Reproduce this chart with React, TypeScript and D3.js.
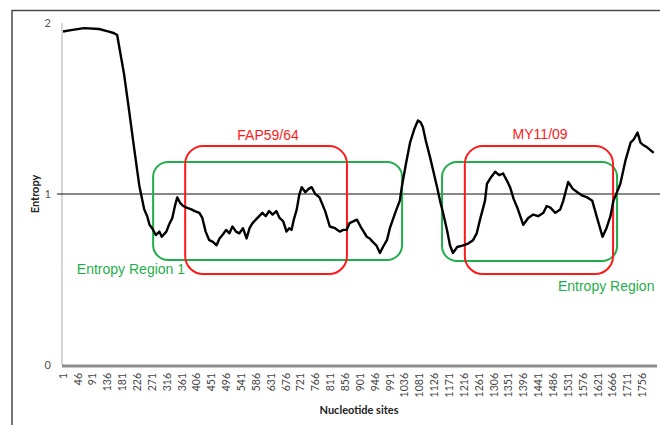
import { useEffect, useRef } from "react";
import * as d3 from "d3";

// entropy curve (site, value)
const sites = [
  1, 30, 65, 110, 140, 156, 165, 175, 186, 201,
  217, 232, 247, 256, 263, 271, 282, 293, 300, 314,
  322, 332, 340, 347, 355, 365, 375, 390, 400, 414,
  423, 433, 444, 455, 466, 475, 484, 495, 505, 514,
  525, 535, 546, 557, 566, 575, 590, 605, 615, 625,
  636, 647, 657, 668, 678, 686, 693, 700, 709, 716,
  724, 735, 745, 754, 765, 778, 795, 809, 825, 839,
  850, 860, 869, 880, 891, 905, 921, 930, 939, 950,
  961, 970, 982, 991, 1000, 1011, 1021, 1027, 1040, 1052,
  1065, 1076, 1084, 1091, 1100, 1112, 1123, 1134, 1143, 1152,
  1164, 1173, 1182, 1195, 1213, 1228, 1243, 1254, 1264, 1279,
  1285, 1298, 1310, 1322, 1334, 1345, 1355, 1366, 1377, 1395,
  1410, 1425, 1440, 1456, 1466, 1477, 1492, 1507, 1516, 1531,
  1545, 1559, 1574, 1589, 1604, 1620, 1635, 1647, 1659, 1668,
  1689, 1705, 1720, 1730, 1741, 1750, 1756, 1772, 1790,
];
const entropy = [
  1.95, 1.96, 1.97, 1.965, 1.95, 1.94, 1.93, 1.82, 1.7, 1.49,
  1.26, 1.05, 0.91, 0.87, 0.82, 0.8, 0.76, 0.78, 0.75, 0.78,
  0.82, 0.86, 0.93, 0.98, 0.95, 0.93, 0.92, 0.91, 0.9, 0.89,
  0.86, 0.78, 0.73, 0.72, 0.7, 0.74, 0.76, 0.79, 0.77, 0.81,
  0.78, 0.77, 0.8, 0.74, 0.8, 0.83, 0.86, 0.89, 0.87, 0.9,
  0.88, 0.9, 0.86, 0.84, 0.78, 0.8, 0.79, 0.85, 0.91, 0.99,
  1.04, 1.01, 1.03, 1.04, 1.0, 0.98, 0.9, 0.81, 0.8, 0.78,
  0.79, 0.79, 0.83, 0.84, 0.85, 0.8, 0.75, 0.74, 0.72, 0.7,
  0.655, 0.69, 0.73, 0.8, 0.85, 0.91, 0.96, 1.04, 1.18, 1.3,
  1.38, 1.43, 1.42, 1.39, 1.31, 1.22, 1.13, 1.04, 0.96, 0.89,
  0.79, 0.7, 0.655, 0.69, 0.7, 0.71, 0.73, 0.77, 0.85, 0.96,
  1.06, 1.1, 1.13, 1.11, 1.12, 1.08, 1.04, 0.97, 0.92, 0.82,
  0.86, 0.88, 0.87, 0.89, 0.93, 0.92, 0.89, 0.91, 0.96, 1.07,
  1.03, 1.01, 0.99, 0.98, 0.96, 0.85, 0.75, 0.8, 0.87, 0.96,
  1.06, 1.2, 1.3, 1.32, 1.36, 1.3, 1.29, 1.27, 1.24,
];

const xTickLabels = [
  1, 46, 91, 136, 181, 226, 271, 316, 361, 406,
  451, 496, 541, 586, 631, 676, 721, 766, 811, 856,
  901, 946, 991, 1036, 1081, 1126, 1171, 1216, 1261, 1306,
  1351, 1396, 1441, 1486, 1531, 1576, 1621, 1666, 1711, 1756,
];
const yTickLabels = [0, 1, 2];

// highlighted regions, in sites / entropy units
const regionNames = ["Entropy Region 1", "FAP59/64", "Entropy Region 2", "MY11/09"];
const regionStart = [274, 371, 1149, 1218];
const regionEnd = [1028, 861, 1679, 1667];
const regionTop = [1.187, 1.28, 1.187, 1.28];
const regionBottom = [0.614, 0.532, 0.608, 0.532];
const regionKind = ["green", "red", "green", "red"];

// where each region's caption sits
const captionText = ["Entropy Region 1", "FAP59/64", "Entropy Region", "MY11/09"];
const captionSite = [43, 622, 1500, 1446];
const captionValue = [0.532, 1.316, 0.433, 1.32];
const captionAnchor = ["start", "middle", "start", "middle"];

const App = () => {
  const svgRef = useRef<SVGSVGElement | null>(null);

  useEffect(() => {
    if (!svgRef.current) return;
    const svg = d3.select(svgRef.current);
    svg.selectAll("*").remove();

    const W = 660;
    const H = 425;
    const green = "#1fae4b";
    const red = "#ff1a1a";
    const axisFont = "Lato, 'Liberation Sans', sans-serif";
    const boxFont = "'Liberation Sans', Arial, sans-serif";

    const x = d3.scaleLinear().domain([1, 1800]).range([63, 657]);
    const y = d3.scaleLinear().domain([0, 2]).range([365, 23]);

    svg.attr("width", W).attr("height", H);

    // outer chart frame
    svg.append("rect")
      .attr("x", 12).attr("y", 10.5)
      .attr("width", W).attr("height", H)
      .attr("fill", "none")
      .attr("stroke", "#4a4a4a")
      .attr("stroke-width", 1.5);

    // y axis line
    svg.append("line")
      .attr("x1", 62).attr("x2", 62)
      .attr("y1", y(2)).attr("y2", y(0))
      .attr("stroke", "#c8c8c8")
      .attr("stroke-width", 1.5);

    // y tick labels
    svg.selectAll(".ytick")
      .data(yTickLabels)
      .join("text")
      .attr("class", "ytick")
      .attr("x", 51)
      .attr("y", d => y(d))
      .attr("dy", "0.35em")
      .attr("text-anchor", "end")
      .style("font-family", axisFont)
      .style("font-size", "11px")
      .style("fill", "#555")
      .text(d => d);

    // reference line at entropy = 1
    svg.append("line")
      .attr("x1", 57).attr("x2", W)
      .attr("y1", y(1)).attr("y2", y(1))
      .attr("stroke", "#111")
      .attr("stroke-width", 1.2);

    // boxes
    const boxes = regionNames.map((name, i) => ({
      name,
      x0: regionStart[i],
      x1: regionEnd[i],
      top: regionTop[i],
      bottom: regionBottom[i],
      kind: regionKind[i],
    }));

    svg.selectAll(".region")
      .data(boxes)
      .join("rect")
      .attr("class", "region")
      .attr("x", d => x(d.x0))
      .attr("y", d => y(d.top))
      .attr("width", d => x(d.x1) - x(d.x0))
      .attr("height", d => y(d.bottom) - y(d.top))
      .attr("rx", d => (d.kind === "red" ? 18 : 15))
      .attr("fill", "none")
      .attr("stroke", d => (d.kind === "red" ? red : green))
      .attr("stroke-width", 2);

    // entropy curve
    const points: [number, number][] = sites.map((s, i) => [s, entropy[i]]);
    const line = d3.line<[number, number]>()
      .x(d => x(d[0]))
      .y(d => y(d[1]))
      .curve(d3.curveLinear);

    svg.append("path")
      .datum(points)
      .attr("d", line)
      .attr("fill", "none")
      .attr("stroke", "#000")
      .attr("stroke-width", 2.4)
      .attr("stroke-linejoin", "round");

    // x axis (thick gray bar)
    svg.append("line")
      .attr("x1", 62).attr("x2", 657)
      .attr("y1", 366).attr("y2", 366)
      .attr("stroke", "#8c8c8c")
      .attr("stroke-width", 3);

    // x tick labels, rotated
    svg.selectAll(".xtick")
      .data(xTickLabels)
      .join("text")
      .attr("class", "xtick")
      .attr("transform", d => `translate(${x(d)},373) rotate(-90)`)
      .attr("dy", "0.35em")
      .attr("text-anchor", "end")
      .style("font-family", axisFont)
      .style("font-size", "10.5px")
      .style("fill", "#444")
      .text(d => d);

    // axis titles
    svg.append("text")
      .attr("x", 359)
      .attr("y", 414)
      .attr("text-anchor", "middle")
      .style("font-family", axisFont)
      .style("font-size", "11px")
      .style("font-weight", "bold")
      .style("fill", "#222")
      .text("Nucleotide sites");

    svg.append("text")
      .attr("transform", `translate(39,${y(1)}) rotate(-90)`)
      .attr("text-anchor", "middle")
      .style("font-family", axisFont)
      .style("font-size", "11px")
      .style("font-weight", "bold")
      .style("fill", "#222")
      .text("Entropy");

    // region captions
    svg.selectAll(".caption")
      .data(captionText)
      .join("text")
      .attr("class", "caption")
      .attr("x", (_, i) => x(captionSite[i]))
      .attr("y", (_, i) => y(captionValue[i]))
      .attr("text-anchor", (_, i) => captionAnchor[i])
      .style("font-family", boxFont)
      .style("font-size", "14px")
      .style("fill", (_, i) => (regionKind[i] === "red" ? red : green))
      .text(d => d);
  }, []);

  return (
    <svg
      ref={svgRef}
      style={{ position: "absolute", left: 0, top: 0, background: "#fff" }}
    />
  );
};

export default App;
